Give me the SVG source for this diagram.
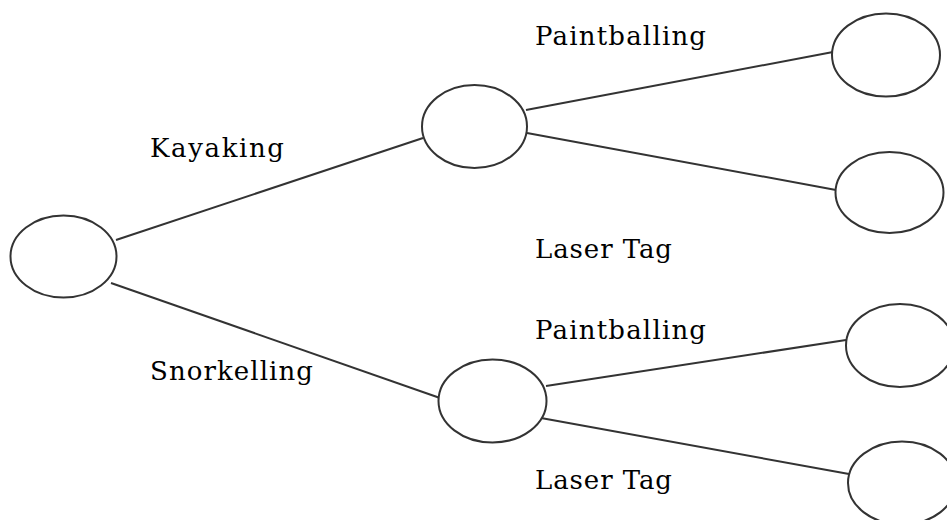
<svg xmlns="http://www.w3.org/2000/svg" width="947" height="520" viewBox="0 0 947 520">
<style>
.n{fill:#fff;stroke:#333;stroke-width:2}
.c{stroke:#333;stroke-width:2;fill:none}
.t{font-family:"DejaVu Serif","Liberation Serif",serif;font-size:26px;fill:#000}
</style>
<rect width="947" height="520" fill="#fff"/>
<g id="connectors">
<line class="c" x1="116" y1="240" x2="423" y2="138"/>
<line class="c" x1="111" y1="283" x2="440" y2="398"/>
<line class="c" x1="526" y1="110" x2="833" y2="52"/>
<line class="c" x1="527" y1="133" x2="836" y2="190"/>
<line class="c" x1="546" y1="386" x2="846" y2="340"/>
<line class="c" x1="541" y1="418" x2="849" y2="474"/>
</g>
<g id="root"><ellipse class="n" cx="63.5" cy="256.5" rx="53" ry="41"/></g>
<g id="kayak"><ellipse class="n" cx="474.5" cy="126.5" rx="52.5" ry="41.5"/></g>
<g id="snork"><ellipse class="n" cx="492.5" cy="401" rx="54" ry="41.5"/></g>
<g id="kp"><ellipse class="n" cx="886" cy="55" rx="54" ry="41.5"/></g>
<g id="kl"><ellipse class="n" cx="889.5" cy="192.5" rx="54" ry="40.5"/></g>
<g id="sp"><ellipse class="n" cx="900" cy="345.5" rx="54" ry="41.5"/></g>
<g id="sl"><ellipse class="n" cx="902" cy="483" rx="54" ry="41.5"/></g>
<g id="labels">
<text class="t" x="150" y="157" textLength="134">Kayaking</text>
<text class="t" x="150" y="380" textLength="163">Snorkelling</text>
<text class="t" x="535" y="45" textLength="171">Paintballing</text>
<text class="t" x="535" y="258" textLength="137">Laser Tag</text>
<text class="t" x="535" y="339" textLength="171">Paintballing</text>
<text class="t" x="535" y="489" textLength="137">Laser Tag</text>
</g>
</svg>
